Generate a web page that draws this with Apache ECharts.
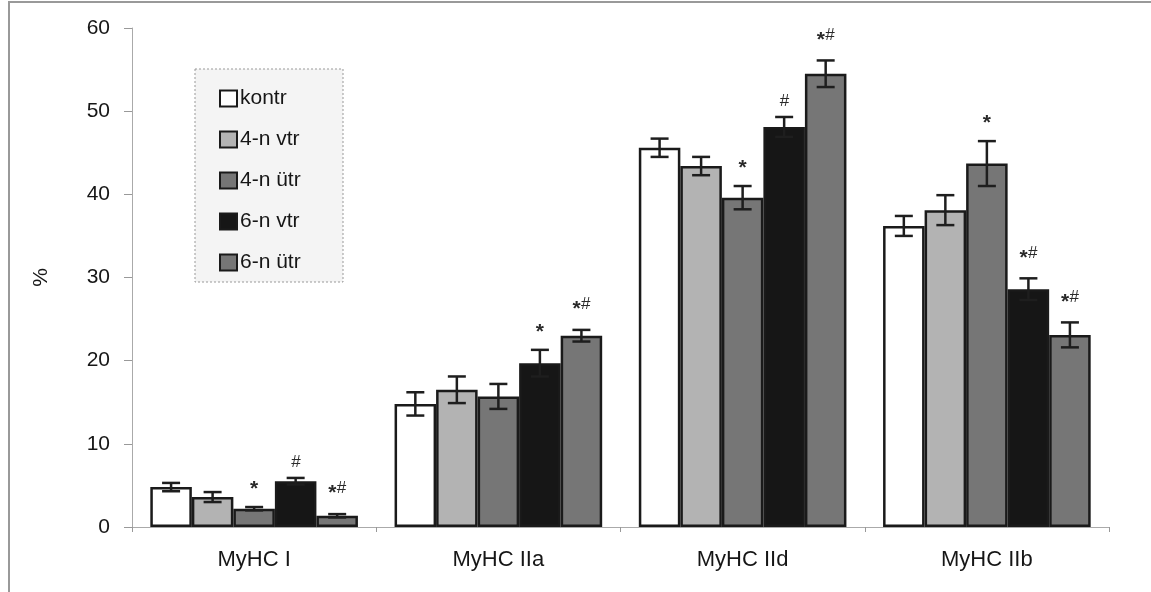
<!DOCTYPE html>
<html>
<head>
<meta charset="utf-8">
<script src="https://cdn.jsdelivr.net/npm/echarts@6/dist/echarts.min.js"></script>
<style>
html,body{margin:0;padding:0;background:#fff;}
#chart{width:1151px;height:592px;}
</style>
</head>
<body>
<div id="chart"></div>
<script>
const categories = ['MyHC I', 'MyHC IIa', 'MyHC IId', 'MyHC IIb'];
const seriesNames = ['kontr', '4-n vtr', '4-n ütr', '6-n vtr', '6-n ütr'];
const yTicks = [0, 10, 20, 30, 40, 50, 60];

const kontr = [4.8, 14.8, 45.6, 36.2];
const kontrErr = [0.5, 1.4, 1.1, 1.2];
const kontrMark = ['', '', '', ''];

const vtr4 = [3.6, 16.5, 43.4, 38.1];
const vtr4Err = [0.6, 1.6, 1.1, 1.8];
const vtr4Mark = ['', '', '', ''];

const utr4 = [2.2, 15.7, 39.6, 43.7];
const utr4Err = [0.2, 1.5, 1.4, 2.7];
const utr4Mark = ['*', '', '*', '*'];

const vtr6 = [5.5, 19.7, 48.1, 28.6];
const vtr6Err = [0.4, 1.6, 1.2, 1.3];
const vtr6Mark = ['#', '*', '#', '*#'];

const utr6 = [1.35, 23.0, 54.5, 23.1];
const utr6Err = [0.2, 0.7, 1.6, 1.5];
const utr6Mark = ['*#', '*#', '*#', '*#'];

const values = [kontr, vtr4, utr4, vtr6, utr6];
const errors = [kontrErr, vtr4Err, utr4Err, vtr6Err, utr6Err];
const marks = [kontrMark, vtr4Mark, utr4Mark, vtr6Mark, utr6Mark];
const colors = ['#ffffff', '#b3b3b3', '#767676', '#161616', '#767676'];

const GAP = 0.15;
const FONT = '"Liberation Sans", Arial, sans-serif';

function markText(m) {
  if (m === '*') return '{s|*}';
  if (m === '#') return '{h0|#}';
  if (m === '*#') return '{s|*}{h|#}';
  return '';
}

function makeRender(si) {
  return function (params, api) {
    const cat = api.value(0), val = api.value(1), e = api.value(2);
    const band = api.size([1, 0])[0];
    const total = band * (1 - GAP);
    const bw = total / seriesNames.length;
    const cx = api.coord([cat, val])[0] - total / 2 + bw * (si + 0.5);
    const yTop = api.coord([cat, val + e])[1];
    const yBot = api.coord([cat, val - e])[1];
    const cap = 9;
    const ls = { stroke: '#1e1e1e', lineWidth: 2.5 };
    const children = [
      { type: 'line', shape: { x1: cx, y1: yTop, x2: cx, y2: yBot }, style: ls },
      { type: 'line', shape: { x1: cx - cap, y1: yTop, x2: cx + cap, y2: yTop }, style: ls },
      { type: 'line', shape: { x1: cx - cap, y1: yBot, x2: cx + cap, y2: yBot }, style: ls }
    ];
    const m = marks[si][params.dataIndex];
    if (m) {
      children.push({
        type: 'text',
        x: cx, y: yTop - 7,
        style: {
          text: markText(m),
          align: 'center', verticalAlign: 'bottom',
          rich: {
            s: { fontSize: 21, fontWeight: 'bold', fontFamily: FONT, fill: '#2a2a2a' },
            h: { fontSize: 17, fontFamily: FONT, fill: '#2a2a2a', fontStyle: 'italic', padding: [0, 0, 10, 0] },
            h0: { fontSize: 17, fontFamily: FONT, fill: '#2a2a2a', fontStyle: 'italic' }
          }
        }
      });
    }
    return { type: 'group', children: children };
  };
}

const series = [];
seriesNames.forEach(function (name, si) {
  series.push({
    name: name,
    type: 'bar',
    data: values[si],
    barGap: '0%',
    barCategoryGap: (GAP * 100) + '%',
    itemStyle: { color: colors[si], borderColor: '#1a1a1a', borderWidth: 2.5 },
    z: 2
  });
});
seriesNames.forEach(function (name, si) {
  series.push({
    type: 'custom',
    renderItem: makeRender(si),
    data: values[si].map(function (v, i) { return [i, v, errors[si][i]]; }),
    encode: { x: 0, y: 1 },
    z: 5,
    silent: true
  });
});

const chart = echarts.init(document.getElementById('chart'));
chart.setOption({
  backgroundColor: '#ffffff',
  animation: false,
  color: colors,
  grid: { left: 132, right: 42, top: 28, bottom: 65, containLabel: false },
  legend: {
    data: seriesNames,
    orient: 'vertical',
    left: 214, top: 83,
    itemWidth: 17, itemHeight: 16,
    itemGap: 20,
    icon: 'rect',
    textStyle: { fontSize: 21, color: '#161616', fontFamily: FONT, padding: [0, 0, 0, -2] },
    z: 10
  },
  xAxis: {
    type: 'category',
    data: categories,
    axisLine: { show: true, lineStyle: { color: '#aaa', width: 1 } },
    axisTick: { show: true, length: 5, lineStyle: { color: '#999' } },
    axisLabel: { fontSize: 22, color: '#161616', fontFamily: FONT, margin: 22 }
  },
  yAxis: {
    type: 'value',
    min: yTicks[0], max: yTicks[yTicks.length - 1], interval: 10,
    name: '%',
    nameLocation: 'middle',
    nameGap: 80,
    nameRotate: 90,
    nameTextStyle: { fontSize: 21, color: '#161616', fontFamily: FONT },
    axisLine: { show: true, lineStyle: { color: '#aaa', width: 1 } },
    axisTick: { show: true, length: 8, lineStyle: { color: '#999' } },
    splitLine: { show: false },
    axisLabel: { fontSize: 21, color: '#161616', fontFamily: FONT, margin: 22 }
  },
  graphic: [
    { type: 'line', shape: { x1: 8, y1: 2, x2: 1151, y2: 2 }, style: { stroke: '#999', lineWidth: 2 }, z: 0 },
    { type: 'line', shape: { x1: 9, y1: 2, x2: 9, y2: 592 }, style: { stroke: '#999', lineWidth: 2 }, z: 0 },
    { type: 'rect', shape: { x: 195, y: 69, width: 148, height: 213 }, style: { fill: '#f4f4f4', stroke: '#999', lineWidth: 1, lineDash: [2, 2] }, z: 1 }
  ],
  series: series
});
</script>
</body>
</html>
